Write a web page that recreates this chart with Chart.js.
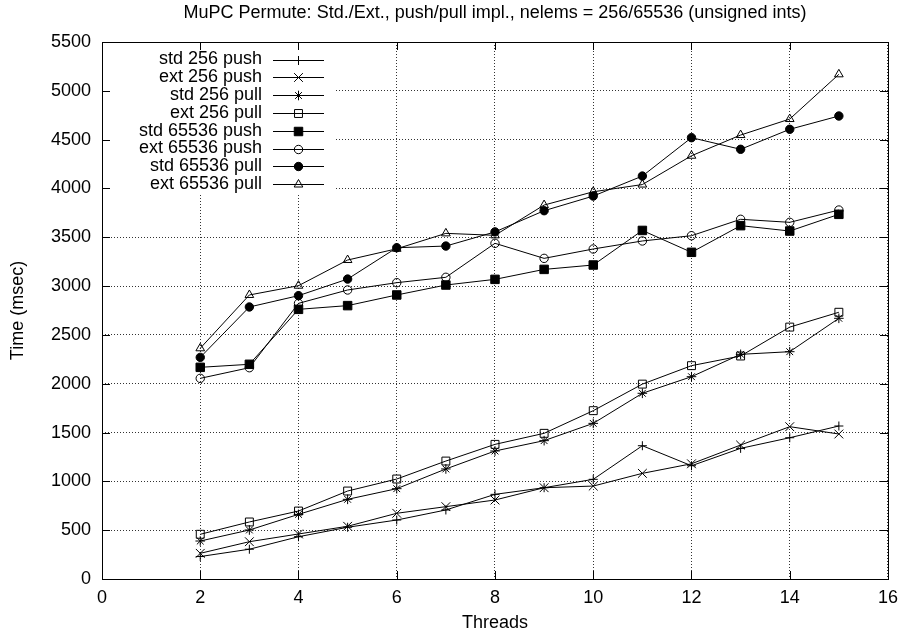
<!DOCTYPE html>
<html>
<head>
<meta charset="utf-8">
<title>MuPC Permute</title>
<script src="https://cdn.jsdelivr.net/npm/chart.js@4.4.1/dist/chart.umd.min.js"></script>
<style>
  html, body { margin: 0; padding: 0; background: #fff; }
  #wrap { width: 906px; height: 644px; }
</style>
</head>
<body>
<div id="wrap"><canvas id="chart"></canvas></div>
<script>
// values (msec)
const threads = [2, 3, 4, 5, 6, 7, 8, 9, 10, 11, 12, 13, 14, 15];

const std256Push   = [230, 305, 433, 530, 604, 707, 867, 935, 1021, 1365, 1160, 1338, 1447, 1567];
const ext256Push   = [263, 382, 461, 540, 673, 741, 809, 935, 952, 1082, 1180, 1372, 1560, 1485];
const std256Pull   = [389, 502, 662, 816, 925, 1127, 1311, 1417, 1594, 1902, 2072, 2301, 2328, 2670];
const ext256Pull   = [458, 584, 696, 901, 1024, 1208, 1379, 1492, 1724, 1996, 2185, 2284, 2580, 2732];
const std65536Push = [2168, 2199, 2762, 2800, 2909, 3011, 3069, 3171, 3216, 3570, 3346, 3619, 3564, 3735];
const ext65536Push = [2055, 2164, 2823, 2960, 3035, 3090, 3438, 3284, 3380, 3462, 3516, 3684, 3653, 3779];
const std65536Pull = [2270, 2786, 2902, 3072, 3393, 3410, 3555, 3772, 3922, 4127, 4520, 4401, 4606, 4742];
const ext65536Pull = [2363, 2909, 3004, 3267, 3382, 3540, 3520, 3830, 3966, 4040, 4335, 4547, 4711, 5169];

const seriesLabels = ['std 256 push', 'ext 256 push', 'std 256 pull', 'ext 256 pull',
                      'std 65536 push', 'ext 65536 push', 'std 65536 pull', 'ext 65536 pull'];
const seriesValues = [std256Push, ext256Push, std256Pull, ext256Pull,
                      std65536Push, ext65536Push, std65536Pull, ext65536Pull];

const xTicks = [0, 2, 4, 6, 8, 10, 12, 14, 16];
const yTicks = [0, 500, 1000, 1500, 2000, 2500, 3000, 3500, 4000, 4500, 5000, 5500];

const chartTitle = 'MuPC Permute: Std./Ext., push/pull impl., nelems = 256/65536 (unsigned ints)';

// gnuplot point types 1..8
const markers = [
  { style: 'cross',    r: 4.5, fill: false },
  { style: 'crossRot', r: 6.2, fill: false },
  { style: 'star',     r: 4.8, fill: false },
  { style: 'rect',     r: 5.6, fill: false },
  { style: 'rect',     r: 6.0, fill: true },
  { style: 'circle',   r: 4.2, fill: false },
  { style: 'circle',   r: 4.2, fill: true },
  { style: 'triangle', r: 5.0, fill: false }
];

const FONT = { family: '"Liberation Sans", Arial, Helvetica, sans-serif', size: 18 };

const datasets = seriesLabels.map((label, i) => ({
  label: label,
  data: threads.map((t, j) => ({ x: t, y: seriesValues[i][j] })),
  borderColor: '#000',
  borderWidth: 1,
  tension: 0,
  fill: false,
  pointStyle: markers[i].style,
  pointRadius: markers[i].r,
  pointBorderColor: '#000',
  pointBorderWidth: 1,
  pointBackgroundColor: markers[i].fill ? '#000' : 'rgba(0,0,0,0)'
}));

function drawMarker(ctx, m, x, y) {
  ctx.save();
  ctx.strokeStyle = '#000';
  ctx.fillStyle = m.fill ? '#000' : 'rgba(0,0,0,0)';
  ctx.lineWidth = 1;
  Chart.helpers.drawPoint(ctx, { pointStyle: m.style, radius: m.r, rotation: 0, borderWidth: 1 }, x, y);
  ctx.restore();
}

// frame with inward ticks, and the key in the upper left, like gnuplot
const gnuplotLook = {
  id: 'gnuplotLook',
  beforeDatasetsDraw(chart) {
    const { ctx, chartArea: a } = chart;
    ctx.save();
    ctx.fillStyle = '#fff';
    ctx.fillRect(a.left + 1, a.top + 1, 232, 150);
    ctx.restore();
  },
  afterDatasetsDraw(chart) {
    const { ctx, chartArea: a, scales } = chart;
    ctx.save();
    ctx.strokeStyle = '#000';
    ctx.lineWidth = 1;
    ctx.setLineDash([]);
    ctx.beginPath();
    yTicks.forEach(v => {
      const y = Math.round(scales.y.getPixelForValue(v)) + 0.5;
      ctx.moveTo(a.left, y); ctx.lineTo(a.left + 8, y);
      ctx.moveTo(a.right, y); ctx.lineTo(a.right - 8, y);
    });
    xTicks.forEach(v => {
      const x = Math.round(scales.x.getPixelForValue(v)) + 0.5;
      ctx.moveTo(x, a.bottom); ctx.lineTo(x, a.bottom - 8);
      ctx.moveTo(x, a.top); ctx.lineTo(x, a.top + 8);
    });
    ctx.stroke();
    ctx.strokeRect(Math.round(a.left) + 0.5, Math.round(a.top) + 0.5,
                   Math.round(a.right - a.left), Math.round(a.bottom - a.top));

    // key
    ctx.font = FONT.size + 'px ' + FONT.family;
    ctx.fillStyle = '#000';
    ctx.textAlign = 'right';
    ctx.textBaseline = 'middle';
    seriesLabels.forEach((label, i) => {
      const y = a.top + 17.5 + i * 17.8;
      ctx.fillText(label, a.left + 160, y);
      ctx.beginPath();
      ctx.moveTo(a.left + 171, Math.round(y) + 0.5);
      ctx.lineTo(a.left + 222, Math.round(y) + 0.5);
      ctx.stroke();
      drawMarker(ctx, markers[i], a.left + 196.5, Math.round(y) + 0.5);
    });
    ctx.restore();
  }
};

new Chart(document.getElementById('chart'), {
  type: 'line',
  data: { datasets: datasets },
  plugins: [gnuplotLook],
  options: {
    responsive: true,
    maintainAspectRatio: false,
    animation: false,
    events: [],
    layout: { padding: { left: 0, right: 17, top: 0, bottom: 0 } },
    plugins: {
      legend: { display: false },
      tooltip: { enabled: false },
      title: {
        display: true,
        text: chartTitle,
        fullSize: false,
        color: '#000',
        font: { family: FONT.family, size: FONT.size, weight: 'normal' },
        padding: { top: 2.2, bottom: 18.2 }
      }
    },
    scales: {
      x: {
        type: 'linear',
        min: 0,
        max: 16,
        afterFit: s => { s.height = 65; },
        afterBuildTicks: s => { s.ticks = xTicks.map(v => ({ value: v })); },
        grid: { color: 'rgba(0,0,0,0.8)', lineWidth: 1, drawTicks: false },
        border: { display: false, dash: [1, 2] },
        ticks: { color: '#000', font: FONT, padding: 8, maxRotation: 0, callback: v => String(v) },
        title: { display: true, text: 'Threads', color: '#000', font: FONT, padding: { top: 0, bottom: 10 } }
      },
      y: {
        type: 'linear',
        min: 0,
        max: 5500,
        afterFit: s => { s.width = 102; },
        afterBuildTicks: s => { s.ticks = yTicks.map(v => ({ value: v })); },
        grid: { color: 'rgba(0,0,0,0.8)', lineWidth: 1, drawTicks: false },
        border: { display: false, dash: [1, 2] },
        ticks: { color: '#000', font: FONT, padding: 11, callback: v => String(v) },
        title: { display: true, text: 'Time (msec)', color: '#000', font: FONT, padding: { top: 7, bottom: 0 } }
      }
    }
  }
});
</script>
</body>
</html>
